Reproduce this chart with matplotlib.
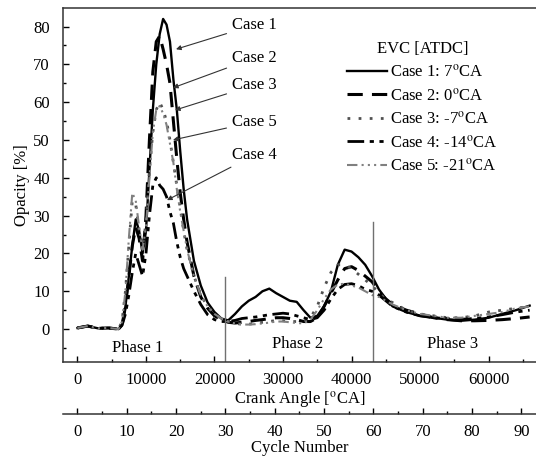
import matplotlib
matplotlib.use("Agg")
import matplotlib.pyplot as plt
from matplotlib.ticker import MultipleLocator

plt.rcParams['font.family'] = ['Liberation Serif', 'DejaVu Serif']
plt.rcParams['mathtext.fontset'] = 'stix'
plt.rcParams['font.size'] = 12

# crank angle grid [deg CA]
crank = [0, 1500, 3000, 4500, 6000, 6500, 7000, 7500, 8000, 8500, 9000, 9500,
         10000, 10500, 11000, 11500, 12000, 12500, 13000, 13500, 14000, 14500,
         15000, 15500, 16000, 17000, 18000, 19000, 20000, 21000, 22000, 23000,
         24000, 25000, 26000, 27000, 28000, 29000, 30000, 31000, 32000, 33000,
         34000, 35000, 36000, 37000, 38000, 39000, 40000, 41000, 42000, 43000,
         44000, 45000, 46000, 48000, 50000, 52000, 54000, 56000, 58000, 60000,
         62000, 64000, 66000]

case1 = [0.3, 0.8, 0.2, 0.3, 0, 1, 6, 14, 22, 29, 26, 20,
         26, 42, 58, 70, 78, 82, 80.5, 76, 66, 58,
         47, 37, 29, 18, 11.5, 7, 4.5, 2.8, 2.3, 4,
         6, 7.5, 8.5, 10, 10.7, 9.5, 8.5, 7.5, 7.2, 5,
         3, 3.5, 6, 10, 17, 21, 20.5, 19, 17, 14,
         10.5, 8, 6, 4.5, 3.5, 3, 2.5, 2.2, 2.5, 3,
         4, 5, 6.2]

case2 = [0.3, 0.8, 0.2, 0.3, 0, 1, 6, 14, 22, 27, 24, 18,
         30, 50, 68, 76, 77.5, 74, 70, 65, 55, 45,
         36, 29, 23, 14, 8.5, 5.5, 3.5, 2.5, 1.8, 1.6,
         1.8, 2, 2.3, 2.5, 2.8, 3, 3, 2.8, 2.5, 2,
         2, 3, 6, 9.5, 13, 16, 16.5, 15.5, 14, 12.5,
         10, 8, 6.5, 5, 4, 3, 2.5, 2.2, 2.2, 2.3,
         2.5, 2.8, 3.2]

case3 = [0.3, 0.8, 0.2, 0.3, 0, 2, 10, 22, 34, 33, 26, 22,
         28, 42, 52, 58, 60, 58, 55, 50, 44, 38,
         32, 26, 21, 14, 9, 6, 4, 2.8, 2, 1.5,
         1.3, 1.3, 1.5, 1.8, 2, 2.3, 2.2, 2, 2, 2,
         3, 6, 11, 15, 17, 17, 16, 14.5, 13, 11.5,
         9.5, 8, 7, 5, 4, 3.5, 3, 3, 3.5, 4.5,
         5, 5.5, 6]

case4 = [0.3, 0.8, 0.2, 0.3, 0, 1, 4, 9, 15, 20, 17, 14,
         20, 30, 38, 40, 38, 37, 35, 31, 28, 23,
         19, 16, 14, 10, 6.5, 3.8, 2.5, 2, 2, 2.3,
         2.8, 3, 3.2, 3.5, 3.8, 4, 4.2, 4, 3.5, 3,
         2.5, 3, 5, 8, 10.5, 11.8, 12, 11.5, 10.5, 10,
         9, 7.5, 6, 4.5, 3.5, 3, 2.8, 2.6, 2.8, 3.2,
         3.8, 4.5, 5]

case5 = [0.3, 0.8, 0.2, 0.3, 0, 2, 10, 24, 36, 34, 27, 21,
         27, 40, 52, 58, 59, 57, 54, 49, 44, 37,
         31, 26, 21, 14, 9, 6, 4, 2.8, 2, 1.5,
         1.2, 1.2, 1.3, 1.5, 1.7, 2, 2, 1.8, 1.6, 1.5,
         2.5, 5, 8, 10.5, 11.8, 12, 11.5, 11, 10, 9,
         8.5, 7.5, 6.5, 5, 4, 3.5, 3, 3, 3.5, 4,
         4.5, 5.5, 6]

labels = ["Case 1: 7$^{\\mathrm{o}}$CA", "Case 2: 0$^{\\mathrm{o}}$CA",
          "Case 3: -7$^{\\mathrm{o}}$CA", "Case 4: -14$^{\\mathrm{o}}$CA",
          "Case 5: -21$^{\\mathrm{o}}$CA"]

# phase boundaries [deg CA] and height of the marker lines
phase_bounds = [21600, 43200]
phase_tops = [13.8, 28.3]
phase_names = ["Phase 1", "Phase 2", "Phase 3"]
phase_pos = [8800, 32150, 54800]
phase_y = [-5.0, -4.0, -4.0]

# arrow annotations: text position and tip on the curve
ann_names = ["Case 1", "Case 2", "Case 3", "Case 5", "Case 4"]
ann_text_y = [80.4, 71.7, 64.5, 54.8, 46]
ann_tip_x = [14380, 13940, 14230, 13940, 13070]
ann_tip_y = [74, 63.8, 57.9, 50, 34.1]

fig = plt.figure(figsize=(5.36, 4.57), dpi=100)
ax = fig.add_axes([0.1175, 0.2079, 0.8825, 0.7746])

ax.plot(crank, case1, color='black', lw=1.7, ls='-', label=labels[0])
ax.plot(crank, case2, color='black', lw=2.2, ls=(0, (5, 3)), label=labels[1])
ax.plot(crank, case3, color='#505050', lw=2.0, ls=(0, (1, 3)), label=labels[2])
ax.plot(crank, case4, color='black', lw=2.0, ls=(0, (6, 2, 1.5, 2, 1.5, 2)), label=labels[3])
ax.plot(crank, case5, color='#808080', lw=1.5, ls=(0, (5, 2, 1, 2, 1, 2, 1, 2)), label=labels[4])

for xb, top in zip(phase_bounds, phase_tops):
    ax.plot([xb, xb], [-8.7, top], color='#707070', lw=1.0)

for name, xp, yp in zip(phase_names, phase_pos, phase_y):
    ax.text(xp, yp, name, ha='center', va='center', fontsize=12)

for name, ty, tx, tipy in zip(ann_names, ann_text_y, ann_tip_x, ann_tip_y):
    ax.annotate(name, xy=(tx, tipy), xytext=(22550, ty), ha='left', va='center',
                fontsize=12,
                arrowprops=dict(arrowstyle='-|>', color='#333333', lw=0.8,
                                mutation_scale=7, shrinkA=2, shrinkB=0))

ax.set_xlim(-2117, 66930)
ax.set_ylim(-8.7, 84.9)
ax.xaxis.set_major_locator(MultipleLocator(10000))
ax.xaxis.set_minor_locator(MultipleLocator(5000))
ax.yaxis.set_major_locator(MultipleLocator(10))
ax.yaxis.set_minor_locator(MultipleLocator(5))
ax.tick_params(which='both', direction='in', top=False, right=False, width=1)
ax.tick_params(which='major', length=4)
ax.tick_params(which='minor', length=2.5)
ax.tick_params(axis='x', which='major', pad=7)
ax.tick_params(axis='y', which='major', pad=9.5)
ax.spines['right'].set_visible(False)
for s in ['left', 'bottom', 'top']:
    ax.spines[s].set_color('#333333')
    ax.spines[s].set_linewidth(1.1)
ax.set_xlabel("Crank Angle [$^{\\mathrm{o}}$CA]", labelpad=1)
ax.set_ylabel("Opacity [%]", labelpad=2)

leg = ax.legend(loc='upper left', bbox_to_anchor=(339 / 536, (457 - 33) / 457),
                bbox_transform=fig.transFigure, frameon=False, borderpad=0,
                handlelength=2.4, handletextpad=0.15, labelspacing=0.4,
                title="EVC [ATDC]", title_fontsize=12, fontsize=12)

# second axis: cycle number (720 deg CA per cycle)
ax2 = fig.add_axes([0.1175, 0.0941, 0.8825, 0.0001])
ax2.set_xlim(-2117 / 720, 66930 / 720)
ax2.set_yticks([])
for s in ['left', 'right', 'top']:
    ax2.spines[s].set_visible(False)
ax2.spines['bottom'].set_color('#333333')
ax2.spines['bottom'].set_linewidth(1.1)
ax2.patch.set_visible(False)
ax2.xaxis.set_major_locator(MultipleLocator(10))
ax2.xaxis.set_minor_locator(MultipleLocator(5))
ax2.tick_params(which='both', direction='in', width=1)
ax2.tick_params(which='major', length=4, pad=7.5)
ax2.tick_params(which='minor', length=2.5)
ax2.set_xlabel("Cycle Number", labelpad=0)

fig.savefig("out.png", dpi=100)
